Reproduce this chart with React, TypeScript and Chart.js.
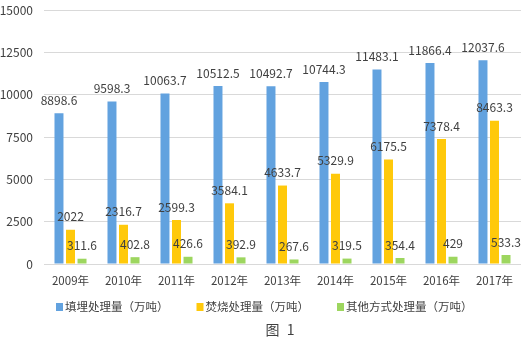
import React, { useEffect, useRef } from "react";
import { Chart, registerables } from "chart.js";

Chart.register(...registerables);

const categories = ["2009年", "2010年", "2011年", "2012年", "2013年", "2014年", "2015年", "2016年", "2017年"];
const landfill = [8898.6, 9598.3, 10063.7, 10512.5, 10492.7, 10744.3, 11483.1, 11866.4, 12037.6];
const incineration = [2022, 2316.7, 2599.3, 3584.1, 4633.7, 5329.9, 6175.5, 7378.4, 8463.3];
const other = [311.6, 402.8, 426.6, 392.9, 267.6, 319.5, 354.4, 429, 533.3];
const seriesNames = ["填埋处理量（万吨）", "焚烧处理量（万吨）", "其他方式处理量（万吨）"];
const seriesColors = ["#62A2DF", "#FFC90B", "#9DD65F"];
const figureTitle = "图 1";

const FONT = "'Noto Sans CJK SC', 'Noto Sans', sans-serif";

const labelPlugin = {
  id: "barLabels",
  afterDatasetsDraw(chart: any) {
    const ctx = chart.ctx;
    ctx.save();
    ctx.font = `12px ${FONT}`;
    ctx.fillStyle = "#404040";
    ctx.textAlign = "center";
    ctx.textBaseline = "middle";
    chart.data.datasets.forEach((ds: any, i: number) => {
      const meta = chart.getDatasetMeta(i);
      meta.data.forEach((el: any, j: number) => {
        ctx.fillText(String(ds.data[j]), el.x, el.y - 13);
      });
    });
    ctx.restore();
  },
};

const legendPlugin = {
  id: "customLegend",
  afterDraw(chart: any) {
    const ctx = chart.ctx;
    ctx.save();
    ctx.font = `11.5px ${FONT}`;
    ctx.textBaseline = "middle";
    ctx.textAlign = "left";
    let x = 56;
    const y = 307;
    chart.data.datasets.forEach((ds: any) => {
      ctx.fillStyle = ds.backgroundColor;
      ctx.fillRect(x, y - 4, 7, 8);
      ctx.fillStyle = "#404040";
      const tx = x + 9;
      ctx.fillText(ds.label, tx, y);
      x = tx + ctx.measureText(ds.label).width + 28;
    });
    ctx.font = `14px ${FONT}`;
    ctx.textAlign = "center";
    (ctx as any).letterSpacing = "2px";
    ctx.fillText(figureTitle, 281, 330);
    ctx.restore();
  },
};

export default function App() {
  const ref = useRef<HTMLCanvasElement>(null);
  useEffect(() => {
    document.body.style.margin = "0";
    const common = { categoryPercentage: 0.652, barPercentage: 0.78 };
    const chart = new Chart(ref.current!, {
      type: "bar",
      data: {
        labels: categories,
        datasets: seriesNames.map((name, i) => ({
          label: name,
          data: [landfill, incineration, other][i],
          backgroundColor: seriesColors[i],
          ...common,
        })),
      },
      options: {
        animation: false,
        responsive: false,
        maintainAspectRatio: false,
        layout: { padding: { top: 0, right: 10, left: 0, bottom: 49 } },
        scales: {
          x: {
            grid: { display: false, drawTicks: false },
            border: { display: false },
            ticks: { color: "#404040", font: { family: FONT, size: 11.5 }, padding: 10, maxRotation: 0 },
            afterFit: (s: any) => { s.height = 24; },
          },
          y: {
            min: 0,
            max: 15000,
            ticks: {
              stepSize: 2500,
              color: "#404040",
              font: { family: FONT, size: 12 },
              padding: 11,
              callback: (v: any) => String(v),
            },
            grid: { color: "#D9D9D9", drawTicks: false },
            border: { display: false },
            afterFit: (s: any) => { s.width = 44; s.paddingTop = 10; s.paddingBottom = 0; },
          },
        },
        plugins: {
          legend: { display: false },
          title: { display: false },
          tooltip: { enabled: false },
        },
      },
      plugins: [labelPlugin, legendPlugin],
    });
    return () => chart.destroy();
  }, []);
  return (
    <div style={{ width: 531, height: 337 }}>
      <canvas ref={ref} width={531} height={337} style={{ width: 531, height: 337 }} />
    </div>
  );
}
